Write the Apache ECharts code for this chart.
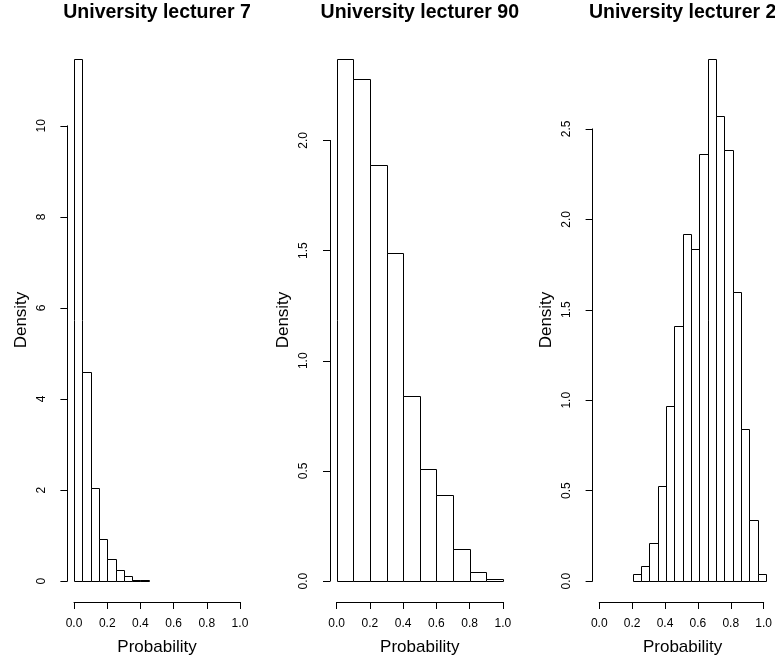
<!DOCTYPE html>
<html><head><meta charset="utf-8">
<script src="https://cdn.jsdelivr.net/npm/echarts@6/dist/echarts.min.js"></script>
<style>html,body{margin:0;padding:0;background:#fff}#c{width:775px;height:662px}</style>
</head><body><div id="c"></div>
<script>
// ---------- data ----------
const titles = ["University lecturer 7", "University lecturer 90", "University lecturer 2"];
const xTicks = [0, 0.2, 0.4, 0.6, 0.8, 1.0];

const lecturer7Edges = [0, 0.05, 0.10, 0.15, 0.20, 0.25, 0.30, 0.35, 0.40, 0.45];
const lecturer7Density = [11.47, 4.60, 2.05, 0.92, 0.49, 0.25, 0.12, 0.03, 0.02];
const lecturer7YTicks = [0, 2, 4, 6, 8, 10];

const lecturer90Edges = [0, 0.1, 0.2, 0.3, 0.4, 0.5, 0.6, 0.7, 0.8, 0.9, 1.0];
const lecturer90Density = [2.37, 2.28, 1.89, 1.49, 0.84, 0.51, 0.39, 0.145, 0.04, 0.008];
const lecturer90YTicks = [0, 0.5, 1.0, 1.5, 2.0];

const lecturer2Edges = [0.20, 0.25, 0.30, 0.35, 0.40, 0.45, 0.50, 0.55, 0.60, 0.65, 0.70, 0.75, 0.80, 0.85, 0.90, 0.95, 1.00];
const lecturer2Density = [0.04, 0.083, 0.21, 0.527, 0.968, 1.413, 1.919, 1.834, 2.361, 2.887, 2.572, 2.383, 1.601, 0.841, 0.336, 0.04];
const lecturer2YTicks = [0, 0.5, 1.0, 1.5, 2.0, 2.5];

// ---------- layout ----------
const FONT = "'Liberation Sans', Arial, Helvetica, sans-serif";
const TOP = 38, BOT = 602;
const panels = [
  {title: titles[0], edges: lecturer7Edges, dens: lecturer7Density, yTicks: lecturer7YTicks, L: 67.4, R: 246.6, dec: 0},
  {title: titles[1], edges: lecturer90Edges, dens: lecturer90Density, yTicks: lecturer90YTicks, L: 330.0, R: 509.6, dec: 1},
  {title: titles[2], edges: lecturer2Edges, dens: lecturer2Density, yTicks: lecturer2YTicks, L: 592.6, R: 772.7, dec: 1}
];

const chart = echarts.init(document.getElementById('c'), null, {renderer: 'canvas', width: 775, height: 662});
const grid = [], xAxis = [], yAxis = [], series = [], graphic = [];

function renderBar(params, api) {
  const p0 = api.coord([api.value(0), api.value(2)]);
  const p1 = api.coord([api.value(1), 0]);
  const x0 = Math.round(p0[0]) + 0.5, x1 = Math.round(p1[0]) + 0.5;
  const y0 = Math.round(p0[1]) + 0.5, y1 = Math.round(p1[1]) + 0.5;
  return {type: 'rect', shape: {x: x0, y: y0, width: x1 - x0, height: y1 - y0},
          style: {fill: '#fff', stroke: '#000', lineWidth: 1}};
}

panels.forEach((p) => {
  const ymax = Math.max(...p.dens);
  const w = p.R - p.L, h = BOT - TOP;
  const pxPerUnit = h / (1.08 * ymax);
  const yZero = TOP + 1.04 * ymax * pxPerUnit;

  // data grid (R plot region)
  let gi = grid.length;
  grid.push({left: p.L, top: TOP, width: w, height: h});
  xAxis.push({gridIndex: gi, type: 'value', min: -0.04, max: 1.04,
    axisLine: {show: false}, axisTick: {show: false}, axisLabel: {show: false}, splitLine: {show: false},
    name: 'Probability', nameLocation: 'middle', nameGap: 37,
    nameTextStyle: {fontSize: 17, color: '#000', fontFamily: FONT}});
  yAxis.push({gridIndex: gi, type: 'value', min: -0.04 * ymax, max: 1.04 * ymax,
    axisLine: {show: false}, axisTick: {show: false}, axisLabel: {show: false}, splitLine: {show: false},
    name: 'Density', nameLocation: 'middle', nameRotate: 90, nameGap: 38,
    nameTextStyle: {fontSize: 17, color: '#000', fontFamily: FONT}});
  const bins = p.dens.map((d, k) => [p.edges[k], p.edges[k + 1], d]);
  series.push({type: 'custom', xAxisIndex: xAxis.length - 1, yAxisIndex: yAxis.length - 1,
    data: bins, renderItem: renderBar, silent: true, animation: false});

  // x axis spanning 0..1
  gi = grid.length;
  grid.push({left: p.L + 0.04 / 1.08 * w, top: TOP, width: w / 1.08, height: h});
  xAxis.push({gridIndex: gi, type: 'value', min: xTicks[0], max: xTicks[xTicks.length - 1],
    interval: xTicks[1] - xTicks[0],
    axisLine: {show: true, lineStyle: {color: '#000', width: 1}},
    axisTick: {show: true, inside: false, length: 7, lineStyle: {color: '#000', width: 1}},
    axisLabel: {show: true, margin: 16, fontSize: 12, color: '#000', fontFamily: FONT,
      showMinLabel: true, showMaxLabel: true, formatter: (v) => v.toFixed(1)},
    splitLine: {show: false}});
  yAxis.push({gridIndex: gi, type: 'value', show: false, min: 0, max: 1});

  // y axis spanning 0..last tick
  gi = grid.length;
  const yTop = p.yTicks[p.yTicks.length - 1];
  grid.push({left: p.L, width: w, top: yZero - yTop * pxPerUnit, height: yTop * pxPerUnit});
  xAxis.push({gridIndex: gi, type: 'value', show: false, min: 0, max: 1});
  yAxis.push({gridIndex: gi, type: 'value', min: 0, max: yTop, interval: p.yTicks[1] - p.yTicks[0],
    axisLine: {show: true, lineStyle: {color: '#000', width: 1}},
    axisTick: {show: true, inside: false, length: 7, lineStyle: {color: '#000', width: 1}},
    axisLabel: {show: true, margin: 20, rotate: 90, fontSize: 12, color: '#000', fontFamily: FONT,
      showMinLabel: true, showMaxLabel: true, formatter: (v) => v.toFixed(p.dec)},
    splitLine: {show: false}});

  graphic.push({type: 'text', x: (p.L + p.R) / 2, y: 13, silent: true,
    style: {text: p.title, fill: '#000', font: 'bold 19.5px ' + FONT, align: 'center', verticalAlign: 'middle'}});
});

chart.setOption({
  animation: false,
  backgroundColor: '#fff',
  grid, xAxis, yAxis, series, graphic
});
</script>
</body></html>
